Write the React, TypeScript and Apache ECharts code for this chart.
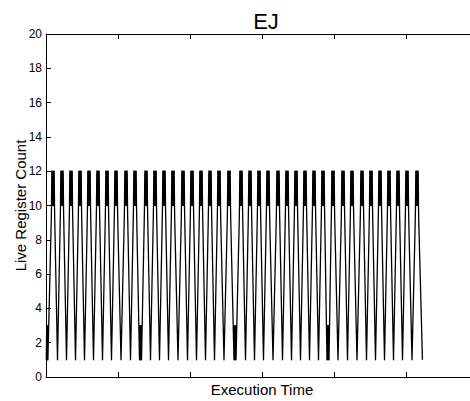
import React, { useEffect, useRef } from "react";
import * as echarts from "echarts";

// Time positions (arbitrary execution-time units) of each burst peak
const peakTimes = [
  7, 16, 25, 34, 43, 52, 61, 70, 80, 89,
  100, 109, 118, 127, 137, 146, 155, 164, 173, 183,
  195, 204, 213, 222, 232, 241, 250, 259, 268, 277,
  287, 297, 306, 316, 325, 334, 343, 352, 361, 371,
];
// Time positions of the minima between peaks
const valleyTimes = [
  11.5, 20.5, 29.5, 38.5, 47.5, 56.5, 65.5, 75, 84.5, 94.5,
  104.5, 113.5, 122.5, 132, 141.5, 150.5, 159.5, 168.5, 178, 189,
  199.5, 208.5, 217.5, 227, 236.5, 245.5, 254.5, 263.5, 272.5, 282,
  292, 301.5, 311, 320.5, 329.5, 338.5, 347.5, 356.5, 366,
];
// Valleys where the count bounces between 1 and 3
const dipValleyTimes = [94.5, 189, 282];
const dipOffsets = [-1, -0.5, 0, 0.5, 1];
const dipValues = [1, 3, 1, 3, 1];
// Shape of a burst around its peak
const peakOffsets = [-1.8, -1.5, -1.2, -0.9, -0.6, -0.3, 0, 0.3, 0.6, 0.9, 1.2, 1.5, 1.8];
const peakValues = [9, 10, 12, 10, 12, 11, 12, 10, 12, 11, 12, 10, 9];
// Start and end of the trace
const startTimes = [0.3, 0.7, 1.1, 1.5, 1.9];
const startValues = [1, 3, 1, 3, 1];
const endTimes = [376, 376.4];
const endValues = [2, 1];

const yTicks = { min: 0, max: 20, interval: 2 };
const xRange = { min: 0, max: 432, interval: 72 };

function buildData(): [number, number][] {
  const pts: [number, number][] = [];
  startTimes.forEach((t, i) => pts.push([t, startValues[i]]));
  peakTimes.forEach((p, i) => {
    if (i > 0) {
      const v = valleyTimes[i - 1];
      if (dipValleyTimes.includes(v)) {
        dipOffsets.forEach((o, k) => pts.push([v + o, dipValues[k]]));
      } else {
        pts.push([v, 1]);
      }
    }
    peakOffsets.forEach((o, k) => pts.push([p + o, peakValues[k]]));
  });
  endTimes.forEach((t, i) => pts.push([t, endValues[i]]));
  return pts;
}

const FONT = 'Arial, "Liberation Sans", sans-serif';

export default function App() {
  const ref = useRef<HTMLDivElement>(null);
  useEffect(() => {
    if (!ref.current) return;
    document.documentElement.style.overflow = "hidden";
    document.body.style.overflow = "hidden";
    const chart = echarts.init(ref.current, undefined, { renderer: "svg" });
    const axisCommon = {
      axisLine: { show: true, lineStyle: { color: "#000", width: 1 } },
      axisTick: { show: true, inside: true, length: 5, lineStyle: { color: "#000" } },
      splitLine: { show: false },
    };
    chart.setOption({
      animation: false,
      backgroundColor: "#fff",
      textStyle: { fontFamily: FONT },
      title: {
        text: "EJ",
        left: 261,
        top: 5,
        textAlign: "center",
        textStyle: { fontFamily: FONT, fontSize: 22, fontWeight: "normal", color: "#000" },
      },
      grid: {
        left: 46,
        top: 34,
        right: -8,
        bottom: 24,
        containLabel: false,
        outerBoundsMode: "none",
      },
      xAxis: [
        {
          type: "value",
          position: "bottom",
          ...xRange,
          ...axisCommon,
          axisLabel: { show: false },
          name: "Execution Time",
          nameLocation: "middle",
          nameGap: 5,
          nameMoveOverlap: false,
          nameTextStyle: { fontFamily: FONT, fontSize: 15, color: "#000", verticalAlign: "top" },
        },
        {
          type: "value",
          position: "top",
          ...xRange,
          ...axisCommon,
          axisLabel: { show: false },
        },
      ],
      yAxis: [
        {
          type: "value",
          ...yTicks,
          ...axisCommon,
          axisLabel: { show: true, fontFamily: FONT, fontSize: 12, color: "#000", margin: 4 },
          name: "Live Register Count",
          nameLocation: "middle",
          nameGap: 18,
          nameMoveOverlap: false,
          nameTextStyle: { fontFamily: FONT, fontSize: 15, color: "#000" },
        },
      ],
      series: [
        {
          type: "line",
          xAxisIndex: 0,
          yAxisIndex: 0,
          data: buildData(),
          symbol: "none",
          lineStyle: { color: "#000", width: 1.3, join: "round" },
        },
      ],
    });
    return () => chart.dispose();
  }, []);
  return <div ref={ref} style={{ position: "absolute", left: 0, top: 0, width: 470, height: 401 }} />;
}
